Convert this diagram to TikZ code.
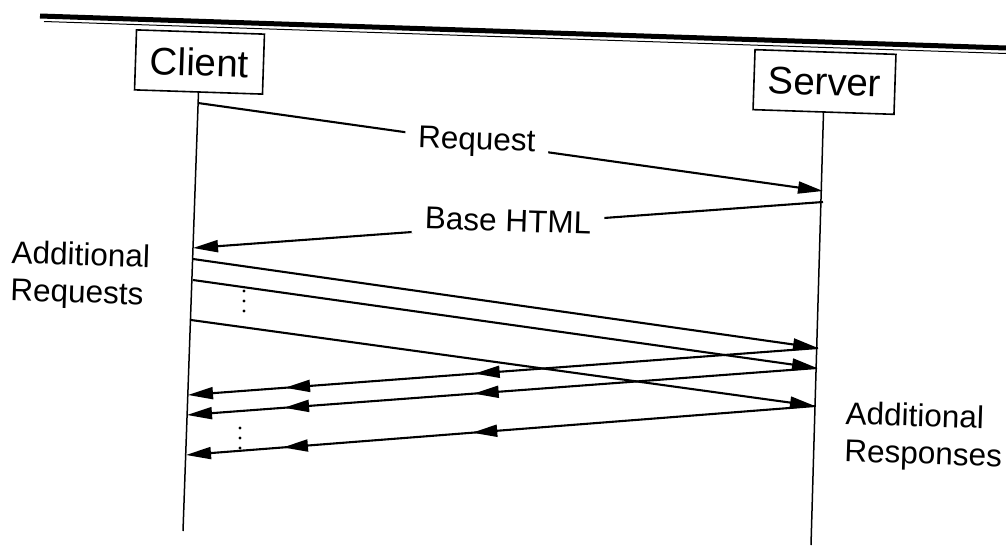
\documentclass[tikz,border=0pt]{standalone}
\usepackage{fontspec}
\setmainfont{Liberation Sans}
\usetikzlibrary{arrows.meta,decorations.markings}

\begin{document}
\begin{tikzpicture}[x=1pt,y=-1pt,
  party/.style={draw,line width=1.6pt,rotate=-1.9,inner sep=0pt,minimum height=60pt,font=\fontsize{38.5}{40}\selectfont},
  msg/.style={line width=2.1pt,-{Triangle[length=25pt,width=12pt]}},
  resp/.style={msg,postaction={decorate},decoration={markings,
    mark=at position 0.545 with {\arrow{Triangle[length=25pt,width=12pt]}},
    mark=at position 0.846 with {\arrow{Triangle[length=25pt,width=12pt]}}}},
  lbl/.style={rotate=-1.9,inner sep=0pt,font=\fontsize{31.5}{37.5}\selectfont},
  gaplbl/.style={lbl,fill=white,inner xsep=13pt,inner ysep=4pt}]
\useasboundingbox (0,0) rectangle (1006,546);
% page rule
\draw [line width=5pt] (40,16) -- (1006,48);
\draw [line width=1pt] (44,21.5) -- (1006,53.5);
% parties
\node [party,minimum width=128pt] (client) at (199.5,62) {Client};
\node [party,minimum width=141pt] (server) at (824.5,82) {Server};
\coordinate (clientend) at (183,531);
\coordinate (serverend) at (811,545);
\draw [line width=1.5pt] (client.south) -- (clientend);
\draw [line width=1.5pt] (server.south) -- (serverend);
% points on the life lines
\coordinate (c1) at (198,103);
\coordinate (c2) at (193,248);
\coordinate (c3) at (193,259);
\coordinate (c4) at (193,280);
\coordinate (c5) at (191,320);
\coordinate (c6) at (188,395);
\coordinate (c7) at (187,415);
\coordinate (c8) at (186,455);
\coordinate (s1) at (823,191);
\coordinate (s2) at (823,202);
\coordinate (s3) at (818,348);
\coordinate (s4) at (817,368);
\coordinate (s5) at (815,406);
% base page
\draw [msg] (c1) -- node [gaplbl,pos=0.446] (reqlbl) {Request} (s1);
\draw [msg] (s2) -- node [gaplbl,pos=0.50,yshift=4pt] (baselbl) {Base HTML} (c2);
% additional requests and responses
\draw [msg] (c3) -- (s3);
\draw [msg] (c4) -- (s4);
\draw [msg] (c5) -- (s5);
\draw [resp] (s3) -- (c6);
\draw [resp] (s4) -- (c7);
\draw [resp] (s5) -- (c8);
\foreach \i in {0,1,2} {
  \fill (244,291+10*\i) circle (1.7);
  \fill (240,428+10*\i) circle (1.7);
}
\node [lbl,align=left,anchor=north west] (addreq) at (12,240) {Additional\\Requests};
\node [lbl,align=left,anchor=north west] (addresp) at (846,401) {Additional\\Responses};
\end{tikzpicture}
\end{document}
